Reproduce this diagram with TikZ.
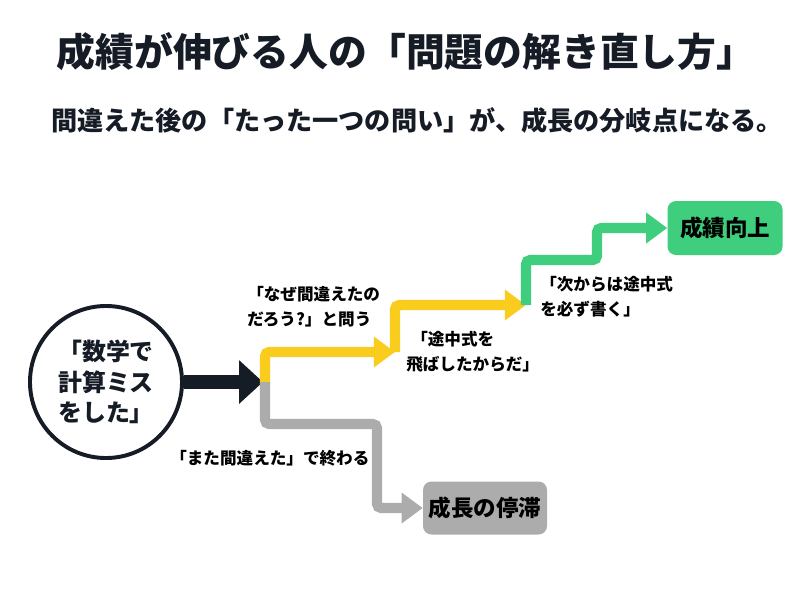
\documentclass[tikz,border=0pt]{standalone}
\usepackage{fontspec}
\setmainfont{Noto Sans CJK JP}
\usetikzlibrary{arrows.meta}
\definecolor{inkdark}{RGB}{22,28,38}
\definecolor{stepyellow}{RGB}{250,204,30}
\definecolor{stepgreen}{RGB}{62,206,125}
\definecolor{stepgray}{RGB}{172,172,172}
\tikzset{
    flowline/.style={line width=7.2pt, rounded corners=3pt, -{Triangle[length=15pt, width=21pt]}},
    steplabel/.style={align=left, anchor=north west, inner sep=0pt, font=\fontsize{11.8}{17.5}\selectfont\bfseries},
    resultbox/.style={rounded corners=6pt, inner sep=0pt, font=\fontsize{16}{18}\selectfont\bfseries},
}
\begin{document}
\begin{tikzpicture}[x=0.025cm, y=-0.025cm]
    \useasboundingbox[fill=white] (0,0) rectangle (800,600);
    % titles
    \node[font=\fontsize{27.6}{30}\selectfont\bfseries, text=inkdark] (title) at (406,52) {成績が伸びる人の「問題の解き直し方」};
    \node[font=\fontsize{18.6}{20}\selectfont\bfseries, text=inkdark] (subtitle) at (417,120) {間違えた後の「たった一つの問い」が、成長の分岐点になる。};
    % start
    \node[draw=inkdark, line width=2.8pt, circle, minimum size=3.8cm, inner sep=0pt, align=center,
          font=\fontsize{17}{21.5}\selectfont\bfseries, text=inkdark] (mistake) at (106,382) {「数学で\\計算ミス\\をした」};
    % results
    \node[resultbox, fill=stepgreen, minimum width=115*0.025cm, minimum height=54*0.025cm] (improve) at (725,228) {成績向上};
    \node[resultbox, fill=stepgray, minimum width=124*0.025cm, minimum height=53*0.025cm] (stall) at (485,508) {成長の停滞};
    % turning points
    \coordinate (fork) at (263,382);
    \coordinate (stepA) at (395,352);
    \coordinate (stepB) at (526,305);
    \draw[inkdark, line width=9.5pt, -{Triangle[length=17pt, width=30pt]}] (mistake) -- (fork);
    \draw[flowline, stepyellow] ([xshift=2*0.025cm]fork) |- (stepA);
    \draw[flowline, stepyellow] (stepA) |- (stepB);
    \draw[flowline, stepgreen] (stepB) |- (597,260) |- (improve.west);
    \draw[flowline, stepgray] ([xshift=2*0.025cm]fork) |- (377,424) |- (stall.west);
    % labels
    \node[steplabel] (why) at (247,286) {「なぜ間違えたの\\だろう?」と問う};
    \node[steplabel] (cause) at (406,331) {\hspace{0.3em}「途中式を\\飛ばしたからだ」};
    \node[steplabel] (rule) at (540,276) {「次からは途中式\\を必ず書く」};
    \node[steplabel] (again) at (170,450) {「また間違えた」で終わる};
\end{tikzpicture}
\end{document}
